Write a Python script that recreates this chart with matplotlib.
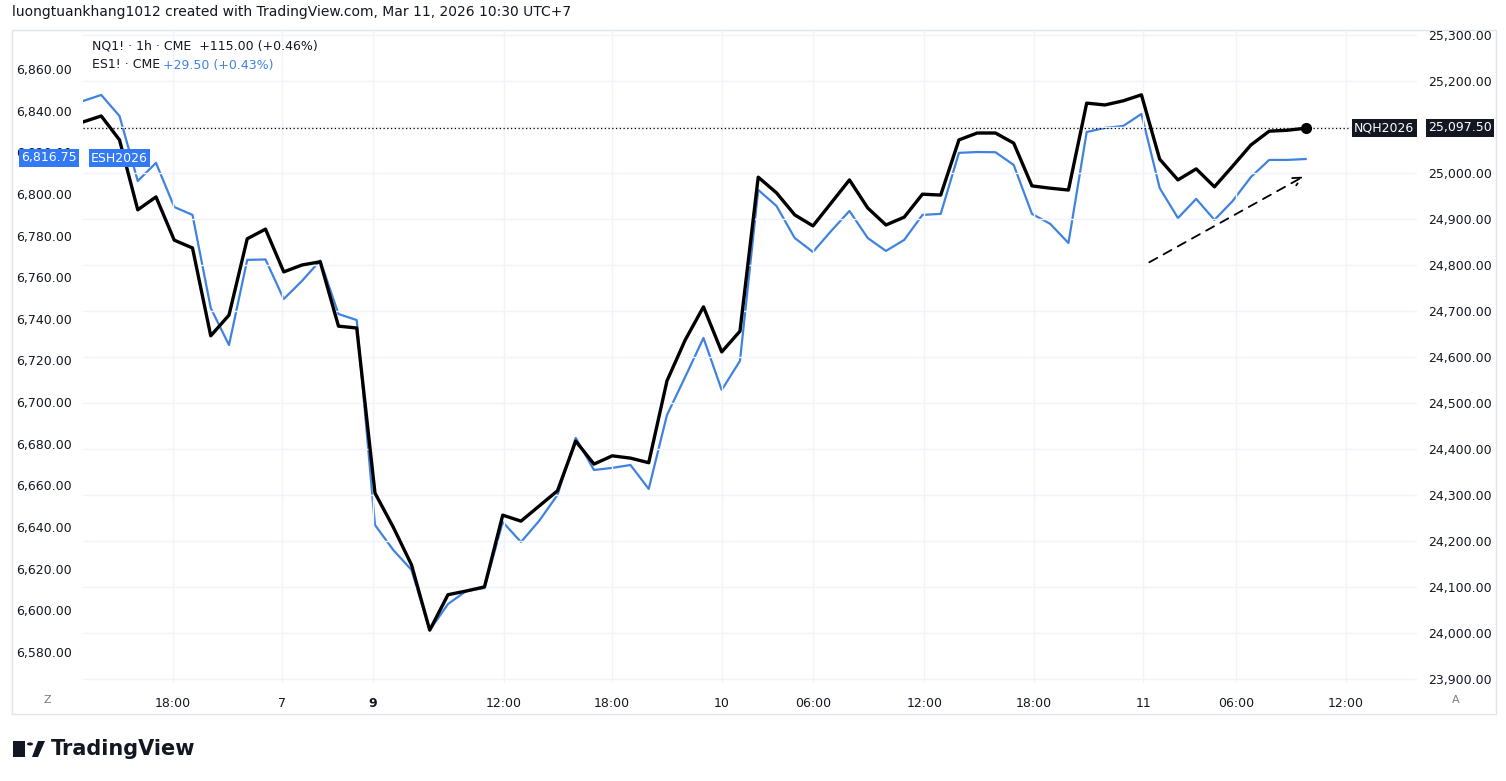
import numpy as np
import matplotlib.pyplot as plt
from matplotlib.patches import Rectangle, Circle, Polygon

# hourly closes, NQ1! (right axis) and ES1! (left axis)
nq = [25111, 25124, 25072, 24920, 24948, 24854, 24837, 24646, 24691, 24857,
      24878, 24785, 24800, 24807, 24667, 24663, 24304, 24230, 24148, 24006,
      24083, 24091, 24100, 24256, 24243, 24276, 24309, 24417, 24367, 24385,
      24380, 24370, 24548, 24637, 24709, 24611, 24656, 24991, 24957, 24909,
      24885, 24935, 24985, 24924, 24887, 24904, 24954, 24952, 25072, 25087,
      25087, 25065, 24972, 24967, 24963, 25152, 25148, 25157, 25170, 25030,
      24985, 25009, 24970, 25015, 25061, 25091, 25093, 25097.5]
es = [6844.6, 6847.5, 6837.4, 6806.2, 6814.9, 6793.7, 6789.9, 6745.2, 6727.4, 6768.3,
      6768.5, 6749.5, 6758.2, 6768.0, 6742.3, 6739.4, 6641.0, 6629.0, 6619.4, 6590.5,
      6603.0, 6609.3, 6610.7, 6642.4, 6632.8, 6643.0, 6655.4, 6682.8, 6667.4, 6668.4,
      6669.8, 6658.3, 6693.8, 6712.1, 6730.8, 6705.8, 6719.8, 6801.9, 6794.2, 6778.8,
      6772.1, 6782.2, 6791.8, 6778.8, 6772.6, 6777.9, 6789.9, 6790.4, 6819.7, 6820.1,
      6820.0, 6813.9, 6790.4, 6785.6, 6776.4, 6829.7, 6831.7, 6832.6, 6838.4, 6802.8,
      6788.4, 6797.6, 6787.5, 6796.6, 6808.1, 6816.3, 6816.3, 6816.75]
x = np.arange(len(nq))

tick_pos = [4.93, 10.9, 15.9, 23.07, 28.99, 35.0, 40.0, 46.1, 52.1, 58.1, 63.2, 69.2]
tick_lab = ["18:00", "7", "9", "12:00", "18:00", "10", "06:00", "12:00", "18:00", "11", "06:00", "12:00"]
nq_ticks = np.arange(23900, 25301, 100)
es_ticks = np.arange(6580, 6861, 20)
arrow_from = (58.3, 24803)
arrow_to = (67.0, 24995)

W, H = 1506, 781
fig = plt.figure(figsize=(W / 100, H / 100), dpi=100)
plt.rcParams['font.family'] = ['DejaVu Sans']

def fx(px): return px / W
def fy(py): return 1 - py / H

# outer frame
fig.add_artist(Rectangle((fx(12), fy(714)), fx(1496) - fx(12), fy(30) - fy(714),
                         transform=fig.transFigure, fill=False, ec='#e0e3eb', lw=1))

ax = fig.add_axes([fx(83), fy(683), fx(1417) - fx(83), fy(30) - fy(683)])
ax2 = ax.twinx()

ax.set_xlim(0, 73.1)
ax.set_ylim(23891, 25311)
for s in ax.spines.values():
    s.set_visible(False)
ax.set_xticks(tick_pos)
ax.set_xticklabels(tick_lab, fontsize=9, color='#131722')
for lbl, t in zip(ax.get_xticklabels(), tick_lab):
    if t == "9":
        lbl.set_fontweight('bold')
ax.tick_params(axis='x', length=0, pad=10)
ax.yaxis.tick_right()
ax.yaxis.set_label_position('right')
ax.set_yticks(nq_ticks)
ax.set_yticklabels([f"{v:,.2f}" for v in nq_ticks], fontsize=9, color='#131722')
ax.tick_params(axis='y', length=0, pad=8)
ax.grid(True, color='#f0f3fa', lw=1)

ax2.set_ylim(6565.1, 6878.7)
for s in ax2.spines.values():
    s.set_visible(False)
ax2.yaxis.tick_left()
ax2.yaxis.set_label_position('left')
ax2.set_yticks(es_ticks)
ax2.set_yticklabels([f"{v:,.2f}" for v in es_ticks], fontsize=9, color='#131722')
ax2.tick_params(axis='y', length=0, pad=8)

ax2.plot(x, es, color='#3f82e0', lw=1.6, zorder=3)
ax.set_zorder(ax2.get_zorder() + 1)
ax.patch.set_visible(False)
ax.plot(x, nq, color='black', lw=2.4, zorder=4)
ax.plot(x[-1], nq[-1], 'o', color='black', ms=7, zorder=5)
ax.axhline(nq[-1], xmin=0, xmax=(1350 - 83) / (1417 - 83), color='black', lw=0.9, ls=(0, (1, 2)))
ax.annotate("", xy=arrow_to, xytext=arrow_from,
            arrowprops=dict(arrowstyle='->', ls=(0, (5, 4)), lw=1.3, color='black', mutation_scale=15))

# badges
fig.text(fx(1354), fy(128), "NQH2026", fontsize=9, color='white', va='center', zorder=10,
         bbox=dict(boxstyle='square,pad=0.2', fc='#131722', ec='none'))
fig.text(fx(1428), fy(128), f"{nq[-1]:,.2f}", fontsize=9, color='white', va='center', zorder=10,
         bbox=dict(boxstyle='square,pad=0.2', fc='#131722', ec='none'))
fig.text(fx(21), fy(158), f"{es[-1]:,.2f}", fontsize=9, color='white', va='center', zorder=10,
         bbox=dict(boxstyle='square,pad=0.2', fc='#3179f5', ec='none'))
fig.text(fx(91), fy(158), "ESH2026", fontsize=9, color='white', va='center', zorder=10,
         bbox=dict(boxstyle='square,pad=0.2', fc='#3179f5', ec='none'))

# legend text
fig.text(fx(92), fy(46), "NQ1! · 1h · CME  +115.00 (+0.46%)", fontsize=9, color='#131722', va='center')
fig.text(fx(92), fy(65), "ES1! · CME", fontsize=9, color='#131722', va='center')
fig.text(fx(163), fy(65), "+29.50 (+0.43%)", fontsize=9, color='#3f82e0', va='center')

fig.text(fx(12), fy(12), "luongtuankhang1012 created with TradingView.com, Mar 11, 2026 10:30 UTC+7",
         fontsize=10, color='#131722', va='center')
fig.text(fx(47), fy(700), "Z", fontsize=8, color='#787b86', ha='center', va='center')
fig.text(fx(1456), fy(700), "A", fontsize=8, color='#787b86', ha='center', va='center')

# logo
fig.add_artist(Rectangle((fx(13), fy(757)), fx(25) - fx(13), fy(741) - fy(757), transform=fig.transFigure,
                         fc='#131722', ec='none'))
fig.add_artist(Polygon([(fx(32), fy(757)), (fx(38), fy(741)), (fx(45), fy(741)), (fx(38), fy(757))],
                       closed=True, transform=fig.transFigure, fc='#131722', ec='none'))
fig.add_artist(Circle((fx(30), fy(744)), 3 / W, transform=fig.transFigure, fc='#131722', ec='none'))
fig.text(fx(51), fy(749), "TradingView", fontsize=15, fontweight='bold', color='#131722', va='center')

fig.savefig("out.png", dpi=100)
